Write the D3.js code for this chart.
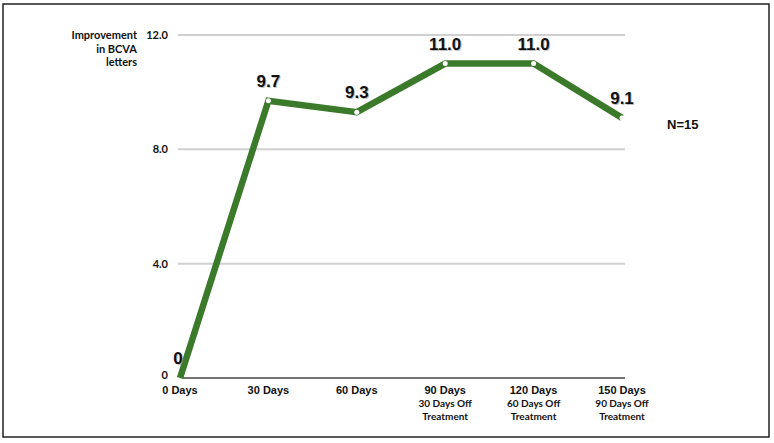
<!DOCTYPE html>
<html><head><meta charset="utf-8">
<script src="https://cdn.jsdelivr.net/npm/d3@7"></script>
<style>body{margin:0;background:#fff}svg{display:block}</style>
</head><body>
<script>
const days = [0, 30, 60, 90, 120, 150];
const dayLabels = ["0 Days", "30 Days", "60 Days", "90 Days", "120 Days", "150 Days"];
const subLabels = [[], [], [], ["30 Days Off", "Treatment"], ["60 Days Off", "Treatment"], ["90 Days Off", "Treatment"]];
const improvement = [0, 9.7, 9.3, 11.0, 11.0, 9.1];
const valueLabels = ["0", "9.7", "9.3", "11.0", "11.0", "9.1"];
const yTicks = [0, 4, 8, 12];
const yTickLabels = ["0", "4.0", "8.0", "12.0"];

const W = 774, H = 443;
const svg = d3.select("body").append("svg").attr("width", W).attr("height", H);
svg.append("rect").attr("x", 3).attr("y", 4).attr("width", 766).attr("height", 433)
  .attr("fill", "#fff").attr("stroke", "#222").attr("stroke-width", 1.5);

const x = d3.scaleLinear().domain([0, 150]).range([180, 622]);
const y = d3.scaleLinear().domain([0, 12]).range([378, 35]);

// gridlines
svg.append("g").selectAll("line").data(yTicks.filter(d => d > 0)).join("line")
  .attr("x1", 178).attr("x2", 625).attr("y1", d => y(d)).attr("y2", d => y(d))
  .attr("stroke", "#d0d0d0").attr("stroke-width", 2);
// baseline
svg.append("line").attr("x1", 183).attr("x2", 625).attr("y1", y(0)).attr("y2", y(0))
  .attr("stroke", "#444").attr("stroke-width", 1.5);

// y tick labels
svg.append("g").selectAll("text").data(yTicks).join("text")
  .attr("x", 168).attr("y", d => d === 0 ? y(d) + 1 : y(d) + 4).attr("text-anchor", "end")
  .attr("font-family", "Lato, 'Open Sans', sans-serif").attr("font-weight", "bold")
  .attr("font-size", 11).attr("fill", "#111")
  .text((d, i) => yTickLabels[i]);

// y title
const yt = ["Improvement", "in BCVA", "letters"];
svg.append("g").selectAll("text").data(yt).join("text")
  .attr("x", 137).attr("y", (d, i) => 39 + i * 13.5).attr("text-anchor", "end")
  .attr("font-family", "Lato, 'Open Sans', sans-serif").attr("font-weight", "bold")
  .attr("font-size", 11).attr("fill", "#111").text(d => d);

// x labels
svg.append("g").selectAll("text").data(days).join("text")
  .attr("x", d => x(d)).attr("y", 394).attr("text-anchor", "middle")
  .attr("font-family", "'Liberation Sans', Arial, sans-serif").attr("font-weight", "bold")
  .attr("font-size", 11).attr("fill", "#111").text((d, i) => dayLabels[i]);
days.forEach((d, i) => {
  subLabels[i].forEach((s, j) => {
    svg.append("text").attr("x", x(d)).attr("y", 407 + j * 13).attr("text-anchor", "middle")
      .attr("font-family", "Lato, 'Open Sans', sans-serif").attr("font-weight", "bold")
      .attr("font-size", 10).attr("fill", "#111").text(s);
  });
});

// line
const pts = days.map((d, i) => [d, improvement[i]]);
svg.append("path").datum(pts)
  .attr("d", d3.line().x(d => x(d[0])).y(d => y(d[1])))
  .attr("fill", "none").attr("stroke", "#3a7a2a").attr("stroke-width", 6.5)
  .attr("stroke-linejoin", "miter");
svg.append("g").selectAll("circle").data(pts.slice(1)).join("circle")
  .attr("cx", d => x(d[0])).attr("cy", d => y(d[1])).attr("r", 2.5).attr("fill", "#fff");

// value labels
const vl = svg.append("g").attr("font-family", "'Liberation Sans', Arial, sans-serif")
  .attr("font-weight", "bold").attr("font-size", 17).attr("text-anchor", "middle");
vl.selectAll("text.sh").data(pts).join("text").attr("class", "sh")
  .attr("x", (d, i) => x(d[0]) + (i === 0 ? -2 : 0) + 1).attr("y", d => y(d[1]) - 14 + 1)
  .attr("fill", "#999").attr("opacity", 0.6).text((d, i) => valueLabels[i]);
vl.selectAll("text.v").data(pts).join("text").attr("class", "v")
  .attr("x", (d, i) => x(d[0]) + (i === 0 ? -2 : 0)).attr("y", d => y(d[1]) - 14)
  .attr("fill", "#111").text((d, i) => valueLabels[i]);

svg.append("text").attr("x", 667).attr("y", 129)
  .attr("font-family", "'Liberation Sans', Arial, sans-serif").attr("font-weight", "bold")
  .attr("font-size", 13).attr("fill", "#111").text("N=15");
</script>
</body></html>
